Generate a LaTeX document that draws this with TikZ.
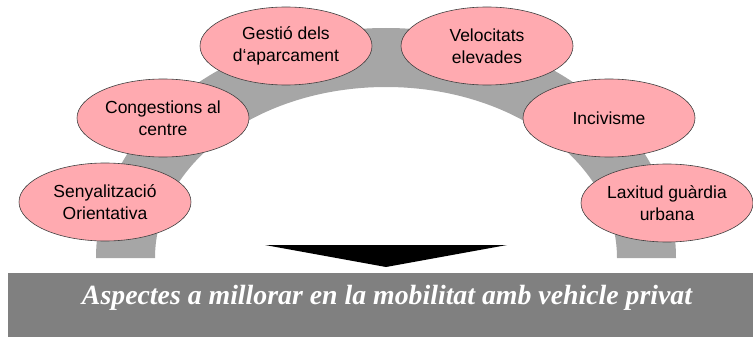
\documentclass[tikz,border=0pt]{standalone}
\usepackage{fontspec}
\setmainfont{Liberation Sans}
\newfontfamily\titlefont{Liberation Serif}
\usetikzlibrary{shapes.geometric}
\definecolor{archgray}{RGB}{166,166,166}
\definecolor{bargray}{RGB}{128,128,128}
\definecolor{petal}{RGB}{255,170,176}
\tikzset{
  item/.style={ellipse, draw=black!75, line width=0.6pt, fill=petal,
    minimum width=172pt, minimum height=78pt, inner sep=0pt,
    align=center, font=\fontsize{17.5}{22}\selectfont}
}

\begin{document}
\begin{tikzpicture}[x=1pt,y=-1pt]
\useasboundingbox (0,0) rectangle (753,337);

%灰色のアーチ
\fill[archgray] (96,258) arc[start angle=180, end angle=360, x radius=290, y radius=230]
  -- (617,258) arc[start angle=360, end angle=180, x radius=231, y radius=171] -- cycle;

%下向きの三角
\fill (265,245) -- (507,245) -- (386,267) -- cycle;

%下の帯
\fill[bargray] (8,273) rectangle (753,337);
\node[text=white, font=\titlefont\bfseries\itshape\fontsize{27.8}{32}\selectfont] (title) at (387,298)
  {Aspectes a millorar en la mobilitat amb vehicle privat};

%楕円
\node[item] (gestio) at (286,46) {Gestió dels\\d‘aparcament};
\node[item] (veloc) at (487,46) {Velocitats\\elevades};
\node[item] (congest) at (163,118) {Congestions al\\centre};
\node[item] (incivis) at (609,118) {Incivisme};
\node[item] (senyal) at (105,202) {Senyalització\\Orientativa};
\node[item] (laxitud) at (667,203) {Laxitud guàrdia\\urbana};
\end{tikzpicture}
\end{document}
